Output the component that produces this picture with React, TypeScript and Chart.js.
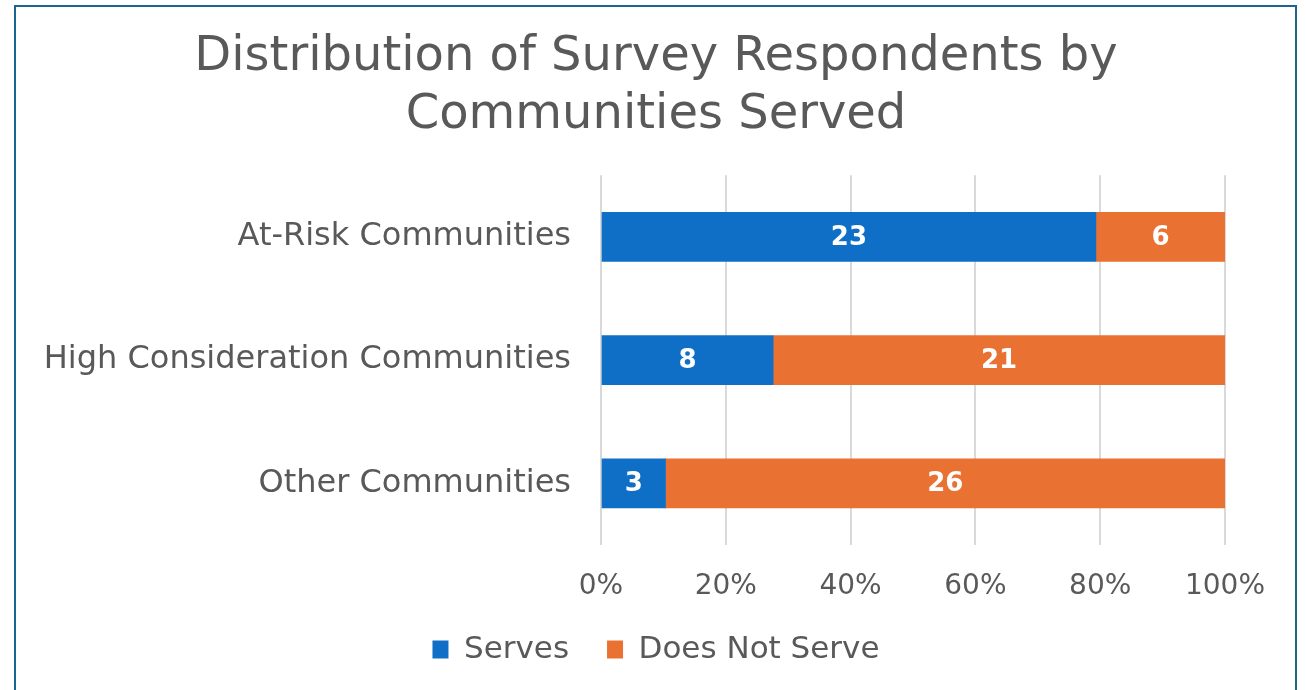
import React, { useEffect, useRef } from "react";
import { Chart, registerables } from "chart.js";

Chart.register(...registerables);

const categories = ["At-Risk Communities", "High Consideration Communities", "Other Communities"];
const servesCounts = [23, 8, 3];
const notServeCounts = [6, 21, 26];
const xTicks = [0, 20, 40, 60, 80, 100];
const seriesNames = ["Serves", "Does Not Serve"];
const titleLines = ["Distribution of Survey Respondents by", "Communities Served"];

const FONT = "'DejaVu Sans', sans-serif";
const GREY = "#595959";

const totals = categories.map((_, i) => servesCounts[i] + notServeCounts[i]);
const toPct = (arr: number[]) => arr.map((v, i) => (v / totals[i]) * 100);

const labelPlugin = {
  id: "segLabels",
  afterDatasetsDraw(chart: any) {
    const ctx = chart.ctx;
    ctx.save();
    ctx.font = `bold 26px ${FONT}`;
    ctx.fillStyle = "#ffffff";
    ctx.textAlign = "center";
    ctx.textBaseline = "middle";
    chart.data.datasets.forEach((ds: any, di: number) => {
      const meta = chart.getDatasetMeta(di);
      meta.data.forEach((el: any, i: number) => {
        const cx = (el.x + el.base) / 2;
        ctx.fillText(String(ds.counts[i]), cx, el.y + 1);
      });
    });
    ctx.restore();
  },
};

export default function App() {
  const ref = useRef<HTMLCanvasElement | null>(null);
  useEffect(() => {
    if (!ref.current) return;
    const chart = new Chart(ref.current, {
      type: "bar",
      data: {
        labels: categories,
        datasets: [
          {
            label: seriesNames[0],
            data: toPct(servesCounts),
            counts: servesCounts,
            backgroundColor: "#0F6FC6",
            borderWidth: 0,
            barThickness: 49,
          } as any,
          {
            label: seriesNames[1],
            data: toPct(notServeCounts),
            counts: notServeCounts,
            backgroundColor: "#E97132",
            borderWidth: 0,
            barThickness: 49,
          } as any,
        ],
      },
      options: {
        indexAxis: "y",
        responsive: false,
        animation: false,
        layout: { padding: { left: 6, right: 0, top: 0, bottom: 15 } },
        scales: {
          x: {
            stacked: true,
            min: 0,
            max: 100,
            afterBuildTicks: (s: any) => {
              s.ticks = xTicks.map((v) => ({ value: v }));
            },
            afterFit: (s: any) => {
              s.height = 51;
            },
            ticks: {
              callback: (v: any) => v + "%",
              color: GREY,
              font: { family: FONT, size: 28 },
              padding: 25,
              maxRotation: 0,
            },
            grid: { color: "#d9d9d9", lineWidth: 2, drawTicks: false },
            border: { display: false },
          },
          y: {
            stacked: true,
            afterFit: (s: any) => {
              s.width = 595;
            },
            ticks: {
              color: GREY,
              font: { family: FONT, size: 32 },
              padding: 30,
            },
            grid: { display: false, drawTicks: false },
            border: { display: false },
          },
          yRight: {
            type: "category",
            position: "right",
            labels: categories,
            afterFit: (s: any) => {
              s.width = 81;
            },
            ticks: { display: false },
            grid: { display: false, drawTicks: false },
            border: { display: false },
          },
        },
        plugins: {
          title: {
            display: true,
            text: titleLines,
            color: GREY,
            font: { family: FONT, size: 48, weight: "normal", lineHeight: 1.2 },
            padding: { top: 29, bottom: 31 },
          },
          legend: {
            position: "bottom",
            labels: {
              color: GREY,
              font: { family: FONT, size: 31 },
              boxWidth: 16,
              boxHeight: 18,
              padding: 38,
            },
          },
          tooltip: { enabled: false },
        },
      } as any,
      plugins: [labelPlugin],
    });
    return () => chart.destroy();
  }, []);

  return (
    <div
      style={{
        position: "fixed",
        left: 0,
        top: 0,
        width: 1306,
        height: 690,
        overflow: "hidden",
        background: "#ffffff",
      }}
    >
      <canvas ref={ref} width={1306} height={690} style={{ display: "block" }} />
      <div
        style={{
          position: "absolute",
          left: 14,
          top: 5,
          width: 1283,
          height: 720,
          boxSizing: "border-box",
          border: "2px solid #1D6590",
          pointerEvents: "none",
        }}
      />
    </div>
  );
}
